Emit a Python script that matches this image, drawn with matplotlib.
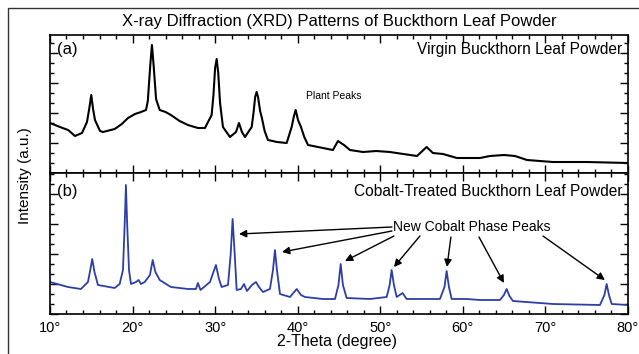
import matplotlib
matplotlib.use("Agg")
import matplotlib.pyplot as plt
from matplotlib.ticker import MultipleLocator, FuncFormatter
from matplotlib.patches import Rectangle

plt.rcParams['font.family'] = ['Liberation Sans', 'DejaVu Sans']

# (a) virgin buckthorn leaf powder
virgin_2theta = [10.0, 11.21, 12.2, 13.03, 13.88, 14.48, 14.75, 15.0, 15.22, 15.45,
                 16.06, 16.42, 17.84, 18.7, 19.45, 20.3, 21.02, 21.63, 21.85, 22.15,
                 22.35, 22.55, 22.85, 23.29, 24.0, 24.65, 25.7, 26.71, 27.92, 28.77,
                 29.58, 29.8, 30.0, 30.19, 30.38, 30.6, 30.95, 31.80, 32.53, 32.89,
                 33.25, 33.62, 34.43, 34.65, 34.85, 35.03, 35.2, 35.45, 35.64, 36.0,
                 36.40, 37.5, 38.67, 39.27, 39.55, 39.76, 40.04, 40.40, 40.8, 41.25,
                 43.06, 44.27, 44.88, 45.61, 46.33, 47.91, 49.5, 51.18, 52.8, 54.45,
                 55.62, 56.38, 57.60, 59.29, 62.08, 63.29, 65.0, 66.32, 67.77, 70.92,
                 75.04, 80.0]
virgin_int = [50, 46, 43, 37, 40, 51, 64, 78, 64, 53,
              42, 41, 44, 49, 55, 59, 61, 63, 72, 108,
              128, 108, 74, 63, 61, 58, 52, 48, 45, 45,
              58, 78, 105, 114, 100, 70, 46, 36, 41, 50,
              41, 36, 46, 60, 76, 81, 76, 62, 56, 42,
              33, 31, 30, 46, 57, 63, 53, 46, 36, 28,
              25, 23, 32, 28, 23, 21, 22, 21, 19, 17,
              26, 20, 19, 15, 15, 17, 18, 17, 13, 11,
              11, 10]

# (b) cobalt-treated powder
cobalt_2theta = [10.0, 12.18, 13.75, 14.60, 14.88, 15.12, 15.39, 15.81, 17.84, 18.44,
                 18.84, 19.05, 19.20, 19.35, 19.57, 19.81, 20.42, 20.74, 21.02, 21.47,
                 22.11, 22.44, 22.77, 23.29, 24.65, 26.71, 27.68, 27.92, 28.23, 29.38,
                 29.80, 30.10, 30.47, 30.79, 31.56, 31.88, 32.12, 32.38, 32.61, 33.13,
                 33.50, 33.86, 34.46, 34.95, 35.31, 35.80, 36.64, 37.01, 37.25, 37.49,
                 37.86, 39.07, 39.88, 40.40, 40.88, 43.06, 44.52, 44.94, 45.21, 45.48,
                 45.93, 48.75, 50.78, 51.14, 51.38, 51.66, 51.99, 52.71, 53.19, 57.23,
                 57.78, 58.04, 58.32, 58.65, 60.47, 62.08, 64.50, 64.98, 65.31, 65.65,
                 66.07, 70.92, 76.61, 77.15, 77.42, 77.70, 78.03, 80.0]
cobalt_int = [32, 27, 25, 32, 44, 55, 42, 29, 26, 30,
              44, 90, 129, 90, 44, 30, 32, 34, 30, 32,
              39, 54, 42, 34, 27, 25, 25, 31, 24, 32,
              42, 49, 35, 27, 29, 59, 95, 59, 24, 25,
              30, 23, 29, 32, 27, 22, 25, 44, 64, 44,
              20, 17, 25, 19, 17, 15, 15, 29, 50, 29,
              16, 15, 17, 29, 44, 29, 17, 21, 15, 15,
              27, 43, 27, 15, 15, 14, 14, 19, 25, 18,
              13, 10, 9, 19, 30, 19, 10, 9]

# arrows: (tail x, tail y) -> (head x, head y) in data units of panel (b)
arrow_tails = [(51.42, 87), (51.42, 83), (51.66, 78), (54.81, 78), (58.56, 77), (61.96, 77), (69.71, 78)]
arrow_heads = [(32.89, 80), (38.10, 62), (45.73, 53), (51.66, 47), (58.08, 47), (64.98, 31), (77.21, 34)]

fig = plt.figure(figsize=(6.39, 3.54), dpi=100)
ax1 = fig.add_axes([0.0782, 0.5113, 0.9045, 0.3898])
ax2 = fig.add_axes([0.0782, 0.1130, 0.9045, 0.3983])

ax1.plot(virgin_2theta, virgin_int, color='black', lw=1.5)
ax2.plot(cobalt_2theta, cobalt_int, color='#2d3fa6', lw=1.3)

ax1.set_ylim(0, 138)
ax2.set_ylim(0, 141)

for ax in (ax1, ax2):
    ax.set_xlim(10, 80)
    ax.xaxis.set_major_locator(MultipleLocator(10))
    ax.xaxis.set_minor_locator(MultipleLocator(2))
    ax.yaxis.set_major_locator(MultipleLocator(30))
    ax.yaxis.set_minor_locator(MultipleLocator(10))
    ax.tick_params(which='both', direction='in', top=True, right=True, labelleft=False)
    ax.tick_params(which='major', length=6, width=1)
    ax.tick_params(which='minor', length=3, width=1)
    for s in ax.spines.values():
        s.set_linewidth(1.2)

ax1.tick_params(labelbottom=False)
ax2.xaxis.set_major_formatter(FuncFormatter(lambda v, p: '%d°' % v))
ax2.tick_params(labelsize=10.5, pad=5)

ax1.text(0.012, 0.86, '(a)', transform=ax1.transAxes, fontsize=12)
ax2.text(0.012, 0.84, '(b)', transform=ax2.transAxes, fontsize=12)
ax1.text(0.99, 0.86, 'Virgin Buckthorn Leaf Powder', transform=ax1.transAxes,
         fontsize=11.2, ha='right')
ax2.text(0.99, 0.84, 'Cobalt-Treated Buckthorn Leaf Powder', transform=ax2.transAxes,
         fontsize=11.2, ha='right')
ax1.text(41.0, 77, 'Plant Peaks', fontsize=7.5, va='center')
ax2.text(61.1, 87, 'New Cobalt Phase Peaks', fontsize=10, ha='center', va='center')

for t, h in zip(arrow_tails, arrow_heads):
    ax2.annotate('', xy=h, xytext=t,
                 arrowprops=dict(arrowstyle='-|>', color='black', lw=1,
                                 mutation_scale=11, shrinkA=0, shrinkB=0))

fig.text(0.531, 0.940, 'X-ray Diffraction (XRD) Patterns of Buckthorn Leaf Powder',
         fontsize=12, ha='center', va='center')
fig.text(0.039, 0.503, 'Intensity (a.u.)', rotation=90, fontsize=11, ha='center', va='center')
fig.text(0.528, 0.034, '2-Theta (degree)', fontsize=11.5, ha='center', va='center')

fig.patches.append(Rectangle((8 / 639, -0.1), 1.2, 1 - 8 / 354 + 0.1, transform=fig.transFigure,
                             fill=False, edgecolor='#333333', lw=1))

fig.savefig('out.png', dpi=100)
